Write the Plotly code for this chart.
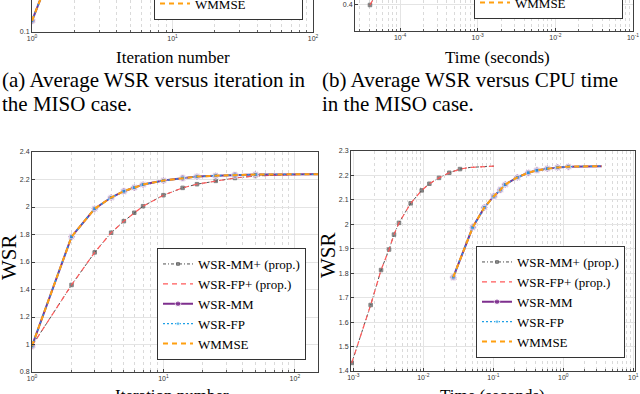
import plotly.graph_objects as go

# ---------------- data ----------------
series_names = ["WSR-MM+ (prop.)", "WSR-FP+ (prop.)", "WSR-MM", "WSR-FP", "WMMSE"]

# (c) WSR versus iteration (bottom-left)
iters = [1, 2, 3, 4, 5, 6, 7, 10, 14, 18, 25, 35, 50, 70, 100, 150]
wsr_base = [0.99, 1.784, 1.988, 2.069, 2.115, 2.141, 2.163, 2.192, 2.211, 2.221,
            2.228, 2.233, 2.236, 2.237, 2.238, 2.238]
wsr_prop = [0.99, 1.433, 1.670, 1.813, 1.897, 1.958, 2.006, 2.086, 2.139, 2.166,
            2.190, 2.211, 2.226, 2.233, 2.236, 2.238]
has_marker = [1] * 13 + [0] * 3

# (d) WSR versus CPU time (points after the first iteration)
time_prop = [0.00095, 0.00177, 0.00249, 0.00324, 0.00381, 0.00449, 0.0066, 0.0095,
             0.0122, 0.01675, 0.0235, 0.0334, 0.047, 0.068, 0.102]
time_base = [0.0268, 0.0508, 0.0744, 0.102, 0.126, 0.148, 0.220, 0.316, 0.42,
             0.59, 0.83, 1.18, 1.65, 2.35, 3.53]

# (a) top-left, visible tail of the MISO iteration plot
iters_a = [1, 2]
wsr_a = [0.114, 0.25]
# (b) top-right, visible tail of the MISO CPU-time plot
time_b_prop = [4.1e-5, 8e-5]
wsr_b_prop = [0.40, 0.55]
time_b_base = [4.0e-4, 8.0e-4]
wsr_b_base = [0.60, 1.00]

# tick labels
ytick_c = [0.8, 1.0, 1.2, 1.4, 1.6, 1.8, 2.0, 2.2, 2.4]
ytick_c_text = ["0.8", "1", "1.2", "1.4", "1.6", "1.8", "2", "2.2", "2.4"]
ytick_d = [1.4, 1.5, 1.6, 1.7, 1.8, 1.9, 2.0, 2.1, 2.2, 2.3]
ytick_d_text = ["1.4", "1.5", "1.6", "1.7", "1.8", "1.9", "2", "2.1", "2.2", "2.3"]
xtick_iter = [1, 10, 100]
xtick_iter_text = ["10<sup>0</sup>", "10<sup>1</sup>", "10<sup>2</sup>"]
xtick_b = [1e-4, 1e-3, 1e-2, 1e-1]
xtick_b_text = ["10<sup>-4</sup>", "10<sup>-3</sup>", "10<sup>-2</sup>", "10<sup>-1</sup>"]
xtick_d = [1e-3, 1e-2, 1e-1, 1, 10]
xtick_d_text = ["10<sup>-3</sup>", "10<sup>-2</sup>", "10<sup>-1</sup>", "10<sup>0</sup>", "10<sup>1</sup>"]
minor_vals = [m * 10.0 ** e for e in range(-6, 3) for m in range(2, 10)]

# ---------------- styles ----------------
W, H = 640, 394
SANS = "Liberation Sans, Arial, sans-serif"
SERIF = "Times New Roman, Liberation Serif, serif"
styles = [
    dict(line=dict(color="#505050", dash="3px,2px,1px,2px", width=1),
         marker=dict(symbol="square", color="#555555", size=3.5), mk=True),
    dict(line=dict(color="#ff5a5a", dash="5px,4px", width=1.2), mk=False),
    dict(line=dict(color="#7e2f8e", width=2),
         marker=dict(symbol="circle", color="#7e2f8e", size=7), mk=True),
    dict(line=dict(color="#1ea0e6", dash="2px,2px", width=1.3),
         marker=dict(symbol="square", color="#1ea0e6", size=4), mk=True),
    dict(line=dict(color="#ffa010", dash="5px,4px", width=2), mk=False),
]

fig = go.Figure()


def add(xs, ys, k, xa, ya, leg, marks):
    st = styles[k]
    kw = dict(x=xs, y=ys, name=series_names[k], xaxis=xa, yaxis=ya, legend=leg,
              line=st["line"], showlegend=True)
    if st["mk"]:
        m = dict(st["marker"])
        m["size"] = [m["size"] if f else 0 for f in marks]
        kw["mode"] = "lines+markers"
        kw["marker"] = m
    else:
        kw["mode"] = "lines"
    fig.add_trace(go.Scatter(**kw))


for k in range(5):
    add(iters_a, wsr_a, k, "x", "y", "legend3", [1, 0])
for k in range(5):
    if k < 2:
        add(time_b_prop, wsr_b_prop, k, "x2", "y2", "legend4", [1, 0])
    else:
        add(time_b_base, wsr_b_base, k, "x2", "y2", "legend4", [1, 0])
for k in range(5):
    ys = wsr_prop if k < 2 else wsr_base
    add(iters, ys, k, "x3", "y3", "legend", has_marker)
for k in range(5):
    ts = time_prop if k < 2 else time_base
    ys = (wsr_prop if k < 2 else wsr_base)[1:]
    add(ts, ys, k, "x4", "y4", "legend2", has_marker[1:])

axis_common = dict(
    showline=True, linecolor="#404040", linewidth=1,
    ticks="inside", ticklen=3, tickcolor="#404040",
    showgrid=True, gridcolor="#e4e4e4", gridwidth=1,
    zeroline=False,
    tickfont=dict(family=SANS, size=7, color="#333333"),
)
log_minor = dict(tickmode="array", tickvals=minor_vals, ticks="inside", ticklen=2,
                 tickcolor="#606060", showgrid=True, gridcolor="#dadada", griddash="dot")


def px_x(a, b):
    return [a / W, b / W]


def px_y(top, bottom):
    return [max(0.0, 1 - bottom / H), min(1.0, 1 - top / H)]


layout = dict(
    width=W, height=H,
    margin=dict(l=0, r=0, t=0, b=0, autoexpand=False),
    paper_bgcolor="white", plot_bgcolor="white",
    showlegend=True, hovermode=False,
    xaxis=dict(axis_common, type="log", domain=px_x(32, 313), range=[0, 2],
               tickvals=xtick_iter, ticktext=xtick_iter_text, minor=log_minor,
               anchor="y", mirror=False),
    yaxis=dict(axis_common, domain=px_y(0, 32), range=[0.1, 0.14],
               tickvals=[0.1], ticktext=["0.1"], anchor="x", mirror=True),
    xaxis2=dict(axis_common, type="log", domain=px_x(355, 633), range=[-4.58, -1.0],
                tickvals=xtick_b, ticktext=xtick_b_text, minor=log_minor,
                anchor="y2", mirror=False),
    yaxis2=dict(axis_common, domain=px_y(0, 31), range=[0.3, 0.4192],
                tickvals=[0.4], ticktext=["0.4"], anchor="x2", mirror=True),
    xaxis3=dict(axis_common, type="log", domain=px_x(32, 318), range=[0, 2.1761],
                tickvals=xtick_iter, ticktext=xtick_iter_text, minor=log_minor,
                anchor="y3", mirror=True),
    yaxis3=dict(axis_common, domain=px_y(152, 372), range=[0.8, 2.4],
                tickvals=ytick_c, ticktext=ytick_c_text, anchor="x3", mirror=True),
    xaxis4=dict(axis_common, type="log", domain=px_x(351, 635), range=[-3.033, 1.024],
                tickvals=xtick_d, ticktext=xtick_d_text, minor=log_minor,
                anchor="y4", mirror=True),
    yaxis4=dict(axis_common, domain=px_y(151, 371), range=[1.4, 2.3],
                tickvals=ytick_d, ticktext=ytick_d_text, anchor="x4", mirror=True),
)

leg_common = dict(bgcolor="white", bordercolor="#333333", borderwidth=1,
                  font=dict(family=SERIF, size=13, color="black"),
                  tracegroupgap=0, itemwidth=30, xanchor="right", yanchor="bottom")
layout["legend"] = dict(leg_common, x=306 / W, y=1 - 360 / H)
layout["legend2"] = dict(leg_common, x=625 / W, y=1 - 358 / H)
layout["legend3"] = dict(leg_common, x=303 / W, y=1 - 20 / H)
layout["legend4"] = dict(leg_common, x=623 / W, y=1 - 19 / H)

fig.update_layout(**layout)


def ann(text, xpx, ypx, size, xanchor="center", yanchor="middle", angle=0):
    fig.add_annotation(text=text, x=xpx / W, y=1 - ypx / H, xref="paper", yref="paper",
                       xanchor=xanchor, yanchor=yanchor, showarrow=False, textangle=angle,
                       font=dict(family=SERIF, size=size, color="black"))


ann("Iteration number", 173, 57, 17)
ann("Time (seconds)", 497, 57, 17)
ann("Iteration number", 172, 384, 17, yanchor="top")
ann("Time (seconds)", 492, 384, 17, yanchor="top")
ann("WSR", 9, 257, 21, angle=-90)
ann("WSR", 328, 255, 21, angle=-90)
ann("(a) Average WSR versus iteration in", 0, 80, 21, xanchor="left")
ann("the MISO case.", 0, 104, 21, xanchor="left")
ann("(b) Average WSR versus CPU time", 320, 80, 21, xanchor="left")
ann("in the MISO case.", 320, 104, 21, xanchor="left")

fig.write_html("out.html", config={"displayModeBar": False},
               post_script="document.body.style.margin='0';")
